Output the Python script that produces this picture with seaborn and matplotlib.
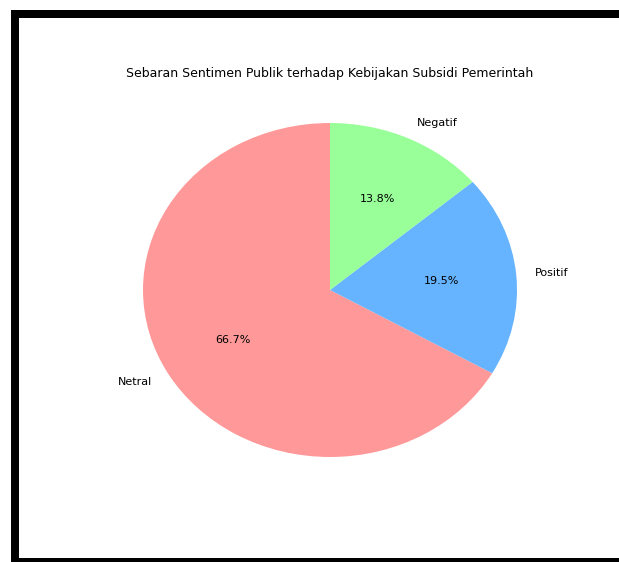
import numpy as np
import pandas as pd
import matplotlib.pyplot as plt
import seaborn as sns
from matplotlib.patches import Rectangle

sentimen = ['Netral', 'Positif', 'Negatif']
persen = [66.7, 19.5, 13.8]
warna = ['#ff9999', '#66b3ff', '#99ff99']

sns.set_style("white")
plt.rcParams['font.family'] = ['DejaVu Sans']
plt.rcParams['text.color'] = 'black'

W, H = 619, 562
fig = plt.figure(figsize=(W / 100, H / 100), dpi=100)
fig.patch.set_facecolor('white')

# axes placed so the (stretched) pie lands where it is in the screenshot
cx, cy, rx, ry = 330, 290, 187, 167
ax = fig.add_axes([(cx - 1.25 * rx) / W, (H - cy - 1.25 * ry) / H,
                   2.5 * rx / W, 2.5 * ry / H])
palette = sns.color_palette(warna)
ax.pie(persen, labels=sentimen, colors=palette, autopct='%1.1f%%',
       startangle=90, textprops={'fontsize': 8, 'color': 'black'},
       wedgeprops={'linewidth': 0})
ax.set_aspect('auto')
ax.set_xlim(-1.25, 1.25)
ax.set_ylim(-1.25, 1.25)
ax.set_title('Sebaran Sentimen Publik terhadap Kebijakan Subsidi Pemerintah',
             fontsize=9, pad=3, color='black')

# black frame of the screenshot
def px_rect(x0, y0, x1, y1):
    fig.patches.append(Rectangle((x0 / W, 1 - y1 / H), (x1 - x0) / W, (y1 - y0) / H,
                                 transform=fig.transFigure, facecolor='black',
                                 edgecolor='none', zorder=10))

px_rect(11, 10, W, 17.5)
px_rect(11, 10, 19, H)
px_rect(11, 558, W, H)

fig.savefig('out.png', dpi=100)
